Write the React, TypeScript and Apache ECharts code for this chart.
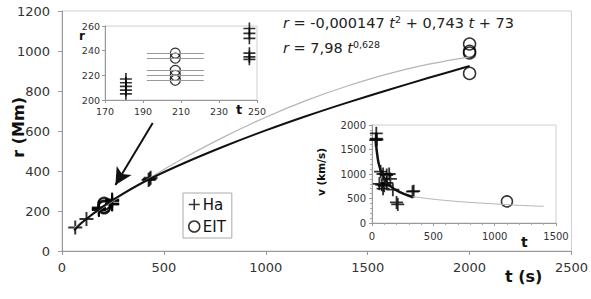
import React, { useEffect, useRef } from "react";
import * as echarts from "echarts";

// ---- Main chart data: r (Mm) vs t (s)
const haMain: [number, number][] = [
  [65, 118], [120, 160], [181, 205], [181, 208], [181, 211], [181, 214], [181, 217],
  [246, 233], [246, 235], [246, 238], [246, 250], [246, 254], [246, 258],
  [425, 355], [430, 360], [435, 366],
];
const eitMain: [number, number][] = [
  [207, 216], [207, 220], [207, 224], [207, 234], [207, 238],
  [2000, 1035], [2000, 998], [2000, 990], [2000, 888],
];
// fitted curves
const powerFit: [number, number][] = [
  [60, 104], [100, 144], [200, 222], [300, 287], [430, 360], [600, 440], [800, 525],
  [1000, 603], [1200, 675], [1400, 742], [1600, 805], [1800, 866], [2000, 925],
];
const polyFit: [number, number][] = [
  [60, 117], [100, 146], [200, 216], [300, 283], [430, 365], [600, 466], [800, 573],
  [1000, 669], [1200, 753], [1400, 825], [1600, 886], [1800, 934], [2000, 971],
];
const arrowFrom: [number, number] = [445, 640];
const arrowTo: [number, number] = [262, 330];

// ---- Inset 1 (zoom on t 170-250)
const haInset: [number, number][] = [
  [181, 217], [181, 214], [181, 211], [181, 208], [181, 205],
  [246, 258], [246, 254], [246, 250], [246, 238], [246, 235], [246, 233],
];
const eitInset: [number, number][] = [
  [207, 238], [207, 234], [207, 224], [207, 220], [207, 216],
];
const eitErr = 15;

// ---- Inset 2: v (km/s) vs t
const haVel: [number, number][] = [
  [35, 1830], [35, 1720], [40, 1700], [30, 1690], [70, 1050], [90, 1000], [120, 980],
  [140, 1000], [150, 900], [60, 800], [80, 780], [100, 760], [120, 820], [90, 700],
  [170, 680], [200, 420], [210, 380], [340, 650], [330, 640],
];
const eitVel: [number, number][] = [[1100, 440]];
const velFitBlack: [number, number][] = [
  [30, 1700], [38, 1490], [54, 1220], [86, 980], [141, 775], [223, 635], [330, 530],
];
const velFitGray: [number, number][] = [
  [330, 540], [450, 500], [600, 460], [800, 420], [1000, 390], [1200, 360], [1400, 340],
];

const FONT = "DejaVu Sans";
const PLUS = "path://M4.3,0H5.7V4.3H10V5.7H5.7V10H4.3V5.7H0V4.3H4.3Z";

export default function App() {
  const ref = useRef<HTMLDivElement>(null);
  useEffect(() => {
    if (!ref.current) return;
    const chart = echarts.init(ref.current, undefined, { renderer: "svg" });
    const axisLine = { lineStyle: { color: "#999", width: 1 } };
    const tick = { show: true, length: 4, lineStyle: { color: "#999" } };
    const lab = (size: number, margin: number) => ({
      fontFamily: FONT, fontSize: size, color: "#333", margin,
      formatter: (v: number) => String(v),
    });
    const circleStyle = { color: "transparent", borderColor: "#000", borderWidth: 1.5 };
    const minor = { show: true, splitNumber: 5, length: 2, lineStyle: { color: "#aaa" } };
    chart.setOption({
      animation: false,
      backgroundColor: "#fff",
      textStyle: { fontFamily: FONT },
      grid: [
        { left: 62, top: 11, width: 511, height: 240, show: true, borderColor: "#cfcfcf", borderWidth: 1 },
        { left: 105, top: 26, width: 152, height: 74, show: true, borderColor: "#cfcfcf", borderWidth: 1, backgroundColor: "#fff" },
        { left: 372, top: 125, width: 184, height: 98, show: true, borderColor: "#cfcfcf", borderWidth: 1, backgroundColor: "#fff" },
      ],
      xAxis: [
        { gridIndex: 0, type: "value", min: 0, max: 2500, interval: 500, axisLine, axisTick: tick, splitLine: { show: false }, axisLabel: lab(13, 10) },
        { gridIndex: 1, type: "value", min: 170, max: 250, interval: 20, axisLine, axisTick: { ...tick, length: 3 }, splitLine: { show: false }, axisLabel: lab(9.5, 6) },
        { gridIndex: 2, type: "value", min: 0, max: 1500, interval: 500, axisLine, axisTick: { ...tick, length: 3 }, minorTick: minor, splitLine: { show: false }, axisLabel: lab(10, 8) },
      ],
      yAxis: [
        { gridIndex: 0, type: "value", min: 0, max: 1200, interval: 200, axisLine: { show: true, ...axisLine }, axisTick: tick, splitLine: { show: false }, axisLabel: lab(13, 12) },
        { gridIndex: 1, type: "value", min: 200, max: 260, interval: 20, axisLine: { show: true, ...axisLine }, axisTick: { ...tick, length: 3 }, splitLine: { show: false }, axisLabel: lab(9.5, 5) },
        { gridIndex: 2, type: "value", min: 0, max: 2000, interval: 500, axisLine: { show: true, ...axisLine }, axisTick: { ...tick, length: 3 }, minorTick: minor, splitLine: { show: false }, axisLabel: lab(10, 6) },
      ],
      legend: {
        left: 183, top: 193, orient: "vertical",
        borderColor: "#aaa", borderWidth: 1, padding: [4, 6, 4, 5],
        itemWidth: 11, itemHeight: 11, itemGap: 7,
        textStyle: { fontFamily: FONT, fontSize: 15, color: "#111", padding: [0, 0, 0, -2] },
        data: [
          { name: "Ha", icon: PLUS, itemStyle: { color: "#000", borderWidth: 0 } },
          { name: "EIT", icon: "circle", itemStyle: circleStyle },
        ],
        selectedMode: false,
      },
      series: [
        {
          type: "line", xAxisIndex: 0, yAxisIndex: 0, data: polyFit, smooth: 0.3,
          showSymbol: false, silent: true, lineStyle: { color: "#b5b5b5", width: 1.2 },
        },
        {
          type: "line", xAxisIndex: 0, yAxisIndex: 0, data: powerFit, smooth: 0.3,
          showSymbol: false, silent: true, lineStyle: { color: "#111", width: 2 },
          markLine: {
            silent: true, symbol: ["none", "arrow"], symbolSize: [13, 17],
            label: { show: false }, lineStyle: { color: "#111", width: 2, type: "solid" },
            data: [[{ coord: arrowFrom }, { coord: arrowTo }]],
          },
        },
        {
          name: "Ha", type: "scatter", xAxisIndex: 0, yAxisIndex: 0, data: haMain,
          symbol: PLUS, symbolSize: 14, itemStyle: { color: "#000" },
        },
        {
          name: "EIT", type: "scatter", xAxisIndex: 0, yAxisIndex: 0, data: eitMain,
          symbol: "circle", symbolSize: 12, itemStyle: circleStyle,
        },
        {
          name: "EIT", type: "scatter", xAxisIndex: 1, yAxisIndex: 1, data: eitInset,
          symbol: "circle", symbolSize: 10, itemStyle: { ...circleStyle, borderWidth: 1.2 },
          markLine: {
            silent: true, symbol: "none", label: { show: false },
            lineStyle: { color: "#999", width: 1, type: "solid" },
            data: eitInset.map(([t, r]) => [{ coord: [t - eitErr, r] }, { coord: [t + eitErr, r] }]),
          },
        },
        {
          name: "Ha", type: "scatter", xAxisIndex: 1, yAxisIndex: 1, data: haInset,
          symbol: PLUS, symbolSize: 12, itemStyle: { color: "#000" },
        },
        {
          type: "line", xAxisIndex: 2, yAxisIndex: 2, data: velFitGray, smooth: 0.3,
          showSymbol: false, silent: true, lineStyle: { color: "#b5b5b5", width: 1 },
        },
        {
          type: "line", xAxisIndex: 2, yAxisIndex: 2, data: velFitBlack, smooth: 0.3,
          showSymbol: false, silent: true, lineStyle: { color: "#111", width: 2.5 },
        },
        {
          name: "Ha", type: "scatter", xAxisIndex: 2, yAxisIndex: 2, data: haVel,
          symbol: PLUS, symbolSize: 13, itemStyle: { color: "#000" },
        },
        {
          name: "EIT", type: "scatter", xAxisIndex: 2, yAxisIndex: 2, data: eitVel,
          symbol: "circle", symbolSize: 11, itemStyle: circleStyle,
        },
      ],
      graphic: [
        { type: "text", left: 10, top: 97, rotation: Math.PI / 2,
          style: { text: "r (Mm)", fontFamily: FONT, fontSize: 16, fontWeight: "bold", fill: "#111" } },
        { type: "text", left: 505, top: 268,
          style: { text: "t (s)", fontFamily: FONT, fontSize: 16, fontWeight: "bold", fill: "#111" } },
        { type: "text", left: 79, top: 30,
          style: { text: "r", fontFamily: FONT, fontSize: 12, fontWeight: "bold", fill: "#111" } },
        { type: "text", left: 236, top: 103,
          style: { text: "t", fontFamily: FONT, fontSize: 13, fontWeight: "bold", fill: "#111" } },
        { type: "text", left: 521, top: 235,
          style: { text: "t", fontFamily: FONT, fontSize: 14, fontWeight: "bold", fill: "#111" } },
        { type: "text", left: 315, top: 148, rotation: Math.PI / 2,
          style: { text: "v (km/s)", fontFamily: FONT, fontSize: 10.5, fontWeight: "bold", fill: "#111" } },
        { type: "text", left: 283, top: 14,
          style: {
            text: "{i|r} = -0,000147 {i|t}{s|2} + 0,743 {i|t} + 73",
            fontFamily: FONT, fontSize: 14.5, fill: "#222",
            rich: {
              i: { fontStyle: "italic", fontSize: 14.5, fontFamily: FONT, lineHeight: 18 },
              s: { fontSize: 9.5, fontFamily: FONT, verticalAlign: "top", lineHeight: 18, padding: [0, 0, 4, 0] },
            },
          } },
        { type: "text", left: 283, top: 39,
          style: {
            text: "{i|r} = 7,98 {i|t}{s|0,628}",
            fontFamily: FONT, fontSize: 14.5, fill: "#222",
            rich: {
              i: { fontStyle: "italic", fontSize: 14.5, fontFamily: FONT, lineHeight: 18 },
              s: { fontSize: 9.5, fontFamily: FONT, verticalAlign: "top", lineHeight: 18, padding: [0, 0, 4, 0] },
            },
          } },
      ],
    });
    return () => chart.dispose();
  }, []);
  return (
    <div
      ref={ref}
      style={{ position: "fixed", left: 0, top: 0, width: 591, height: 299, background: "#fff" }}
    />
  );
}
